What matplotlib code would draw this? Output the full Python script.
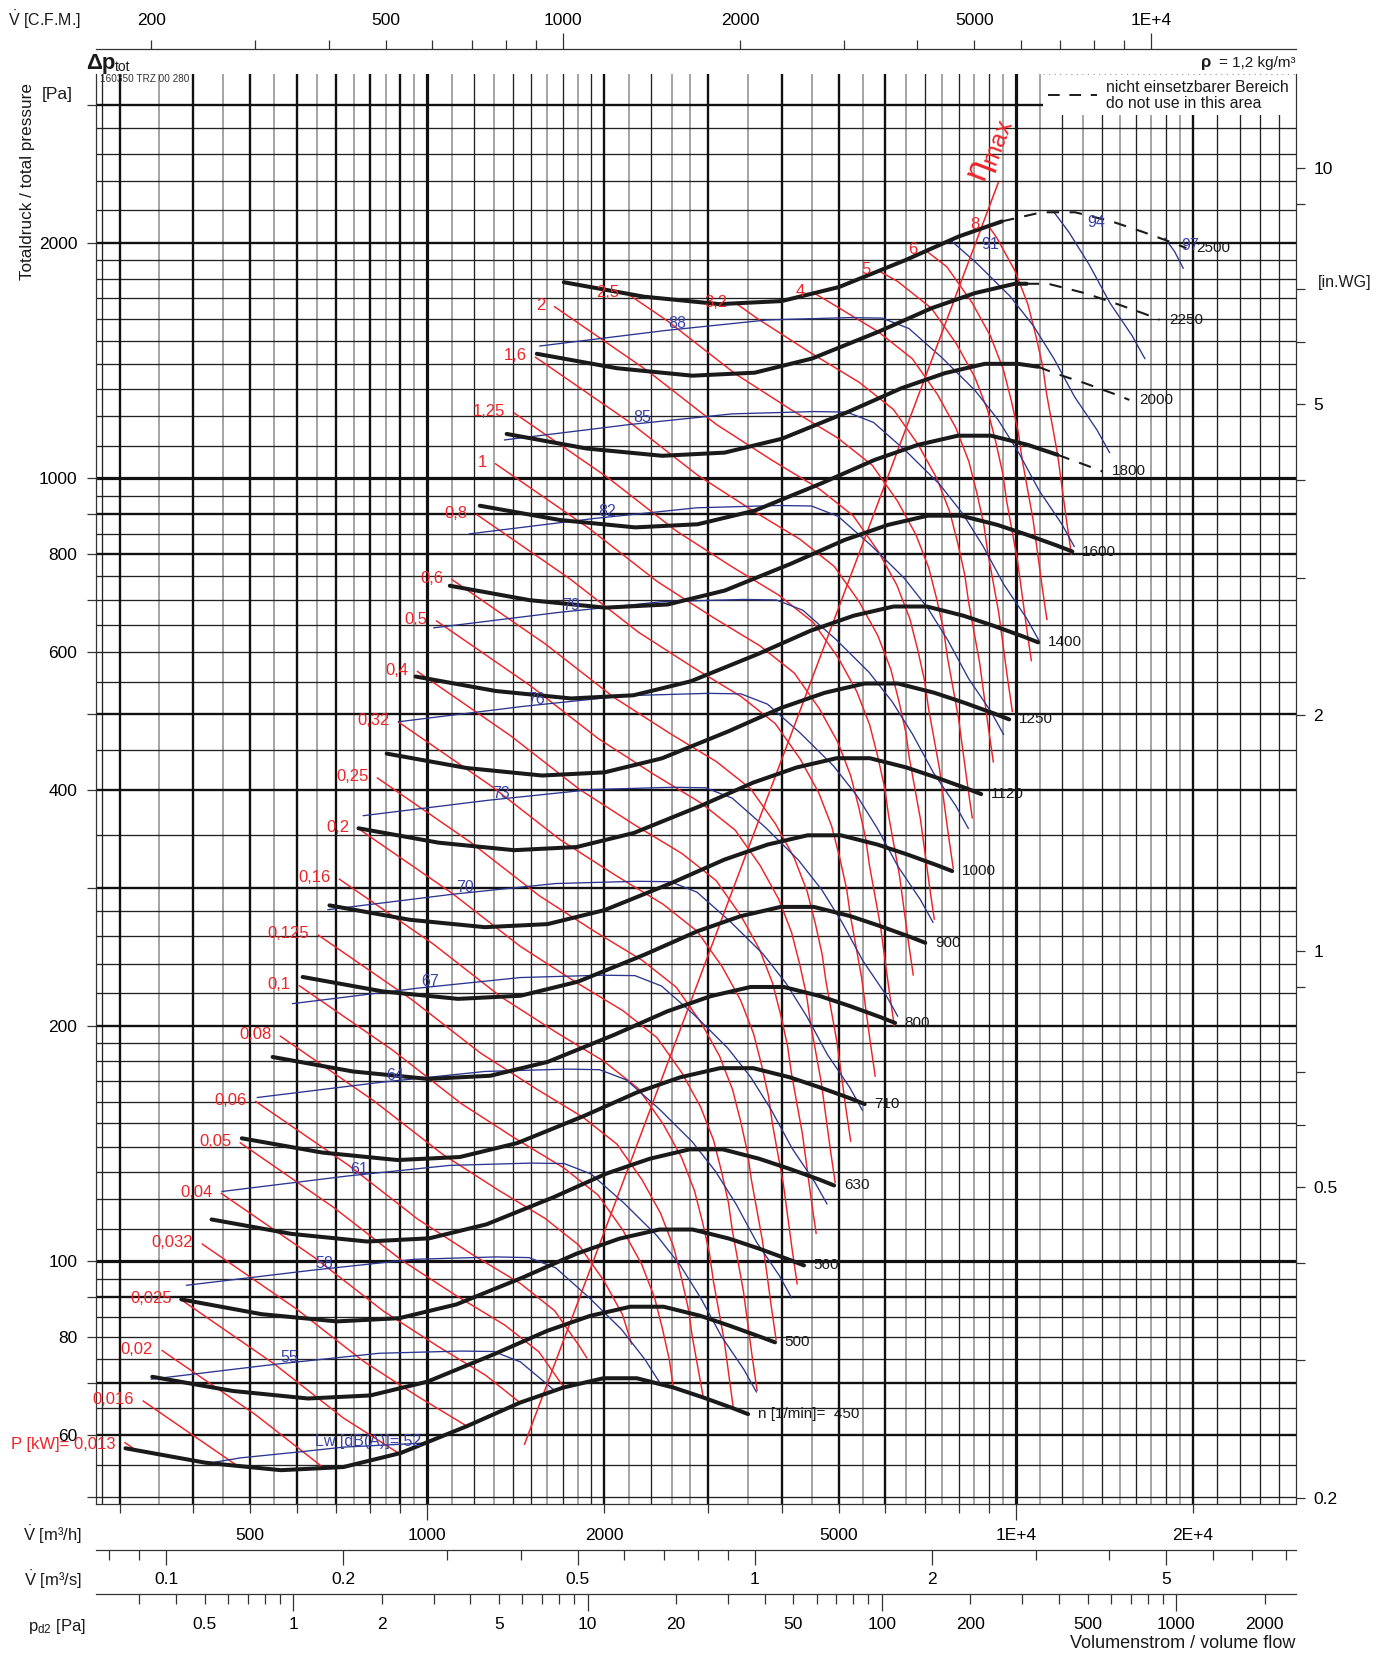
import numpy as np
import matplotlib
matplotlib.use("Agg")
import matplotlib.pyplot as plt
from matplotlib.ticker import FixedLocator, FuncFormatter
from matplotlib.lines import Line2D
from matplotlib.patches import Rectangle

plt.rcParams['font.family'] = ['Liberation Sans', 'DejaVu Sans']
plt.rcParams['mathtext.fontset'] = 'custom'
plt.rcParams['mathtext.rm'] = 'Liberation Sans'
plt.rcParams['mathtext.it'] = 'Liberation Sans:italic'
plt.rcParams['mathtext.bf'] = 'Liberation Sans:bold'

# ================================================================ data
# --- fan curves: total pressure [Pa] over volume flow [m3/h] per speed n
SPEEDS = [450, 500, 560, 630, 710, 800, 900, 1000, 1120, 1250, 1400, 1600,
          1800, 2000, 2250, 2500]
V_450 = [307, 420, 564, 720, 901, 1169, 1438, 1704, 1992, 2269, 2618, 2943, 3309, 3508]
P_450 = [57.7, 55.3, 54.1, 54.6, 56.9, 61.6, 66.0, 69.0, 70.9, 70.9, 69.0, 67.0, 64.9, 63.8]
V_500 = [341, 467, 627, 800, 1001, 1299, 1598, 1893, 2213, 2521, 2909, 3270, 3677, 3898]
P_500 = [71.2, 68.3, 66.8, 67.4, 70.2, 76.1, 81.5, 85.2, 87.5, 87.5, 85.2, 82.7, 80.1, 78.8]
V_560 = [382, 523, 702, 896, 1121, 1455, 1789, 2121, 2479, 2824, 3258, 3662, 4118, 4365]
P_560 = [89.4, 85.6, 83.8, 84.6, 88.1, 95.4, 102.2, 106.9, 109.8, 109.8, 106.9, 103.8, 100.5, 98.8]
V_630 = [430, 588, 790, 1008, 1261, 1637, 2013, 2386, 2789, 3177, 3665, 4120, 4633, 4911]
P_630 = [113.1, 108.4, 106.0, 107.0, 111.5, 120.7, 129.4, 135.2, 139.0, 139.0, 135.2, 131.3, 127.2, 125.0]
V_710 = [484, 663, 890, 1136, 1422, 1844, 2269, 2689, 3143, 3580, 4131, 4644, 5221, 5535]
P_710 = [143.6, 137.7, 134.7, 135.9, 141.6, 153.3, 164.3, 171.8, 176.5, 176.5, 171.8, 166.8, 161.6, 158.8]
V_800 = [546, 747, 1003, 1280, 1602, 2078, 2557, 3029, 3541, 4034, 4654, 5232, 5883, 6236]
P_800 = [182.4, 174.8, 171.0, 172.6, 179.8, 194.7, 208.6, 218.1, 224.1, 224.1, 218.1, 211.8, 205.1, 201.6]
V_900 = [614, 840, 1128, 1440, 1802, 2338, 2876, 3408, 3984, 4538, 5236, 5886, 6618, 7016]
P_900 = [230.8, 221.2, 216.4, 218.4, 227.6, 246.4, 264.0, 276.0, 283.6, 283.6, 276.0, 268.0, 259.6, 255.2]
V_1000 = [682, 933, 1253, 1600, 2002, 2598, 3196, 3787, 4427, 5042, 5818, 6540, 7353, 7796]
P_1000 = [284.9, 273.1, 267.2, 269.6, 281.0, 304.2, 325.9, 340.7, 350.1, 350.1, 340.7, 330.9, 320.5, 315.1]
V_1120 = [764, 1045, 1404, 1792, 2243, 2910, 3579, 4241, 4958, 5647, 6516, 7325, 8236, 8731]
P_1120 = [357.4, 342.6, 335.1, 338.2, 352.5, 381.6, 408.8, 427.4, 439.2, 439.2, 427.4, 415.0, 402.0, 395.2]
V_1250 = [853, 1167, 1567, 2000, 2503, 3247, 3994, 4733, 5533, 6303, 7272, 8175, 9192, 9744]
P_1250 = [445.2, 426.7, 417.4, 421.3, 439.0, 475.3, 509.3, 532.4, 547.1, 547.1, 532.4, 517.0, 500.8, 492.3]
V_1400 = [955, 1307, 1755, 2240, 2803, 3637, 4474, 5301, 6197, 7059, 8145, 9156, 10295, 10914]
P_1400 = [558.5, 535.2, 523.6, 528.5, 550.7, 596.2, 638.8, 667.9, 686.2, 686.2, 667.9, 648.5, 628.2, 617.5]
V_1600 = [1092, 1493, 2005, 2560, 3204, 4156, 5113, 6059, 7083, 8068, 9308, 10464, 11765, 12473]
P_1600 = [729.4, 699.1, 683.9, 690.3, 719.3, 778.7, 834.4, 872.3, 896.3, 896.3, 872.3, 847.0, 820.5, 806.6]
V_1800 = [1228, 1680, 2256, 2880, 3604, 4676, 5752, 6816, 7968, 9076, 10472, 11772, 13236, 14032]
P_1800 = [923, 885, 866, 874, 910, 986, 1056, 1104, 1134, 1134, 1104, 1072, 1038, 1021]
V_2000 = [1364, 1867, 2507, 3200, 4004, 5196, 6391, 7573, 8853, 10084, 10913, 11636, 13080, 14707, 15591]
P_2000 = [1140, 1092, 1069, 1079, 1124, 1217, 1304, 1363, 1401, 1401, 1389, 1363, 1324, 1282, 1260]
V_2250 = [1535, 2100, 2820, 3600, 4505, 5845, 7190, 8520, 9960, 10430, 11345, 13090, 14715, 16545, 17540]
P_2250 = [1443, 1383, 1353, 1365, 1423, 1540, 1650, 1725, 1773, 1773, 1773, 1725, 1675, 1623, 1595]
V_2500 = [1706, 2333, 3133, 4000, 5006, 6494, 7989, 9467, 11067, 12606, 14544, 16350, 18383, 19489]
P_2500 = [1781, 1707, 1670, 1685, 1756, 1901, 2037, 2130, 2188, 2188, 2130, 2068, 2003, 1969]

DASH_SPEEDS = [1800, 2000, 2250, 2500]
DASH_FROM_V = [11772, 10913, 10430, 9467]

# --- shaft power iso-lines P [kW]
RED_LABELS = ['P [kW]= 0,013', '0,016', '0,02', '0,025', '0,032', '0,04', '0,05',
              '0,06', '0,08', '0,1', '0,125', '0,16', '0,2', '0,25', '0,32',
              '0,4', '0,5', '0,6', '0,8', '1', '1,25', '1,6', '2', '2,5',
              '3,2', '4', '5', '6', '8']
R_0013_V = [306.5, 321]
R_0013_P = [58.65, 57.3]
R_0016_V = [329.1, 474]
R_0016_P = [66.3, 54.9]
R_002_V = [354.5, 510.5, 668]
R_002_P = [76.9, 63.7, 54.4]
R_0025_V = [381.9, 550.0, 719.6, 893]
R_0025_P = [89.3, 73.9, 63.1, 56.9]
R_0032_V = [414.7, 597.2, 781.4, 969.6, 1167]
R_0032_P = [105.2, 87.1, 74.4, 67.0, 61.6]
R_004_V = [446.7, 643.3, 841.7, 1044.5, 1257.2, 1437]
R_004_P = [122.1, 101.1, 86.4, 77.8, 71.5, 66.0]
R_005_V = [481.1, 693.0, 906.6, 1125.1, 1354.2, 1548.0, 1707]
R_005_P = [141.7, 117.2, 100.2, 90.2, 82.9, 76.6, 69.0]
R_006_V = [511.3, 736.4, 963.5, 1195.6, 1439.1, 1645.1, 1813.8, 1866]
R_006_P = [160.0, 132.5, 113.2, 101.9, 93.7, 86.5, 77.9, 75.3]
R_008_V = [562.8, 810.5, 1060.4, 1316.0, 1584.0, 1810.6, 1996.4, 2146.3, 2224]
R_008_P = [193.9, 160.4, 137.1, 123.5, 113.5, 104.8, 94.4, 85.5, 78.4]
R_01_V = [606.2, 873.2, 1142.4, 1417.7, 1706.4, 1950.6, 2150.6, 2312.2, 2432.4, 2510.4, 2579.1, 2618]
R_01_P = [224.9, 186.1, 159.0, 143.2, 131.6, 121.5, 109.5, 99.2, 89.9, 81.9, 74.7, 69.0]
R_0125_V = [653, 940.5, 1230.5, 1527, 1838, 2101, 2316.5, 2490.5, 2620, 2704, 2778, 2820, 2944]
R_0125_P = [261, 216, 184.6, 166.3, 152.8, 141.1, 127.1, 115.2, 104.4, 95.1, 86.8, 80.1, 67.0]
R_016_V = [709.0, 1021.2, 1336.1, 1658.0, 1995.7, 2281.3, 2515.3, 2704.2, 2844.8, 2936.0, 3016.4, 3062.0, 3196.6, 3311]
R_016_P = [307.7, 254.6, 217.5, 196.0, 180.1, 166.3, 149.8, 135.7, 123.0, 112.1, 102.3, 94.4, 79.0, 64.9]
R_02_V = [763.7, 1100.0, 1439.2, 1786.0, 2149.7, 2457.3, 2709.4, 2912.9, 3064.4, 3162.6, 3249.1, 3298.3, 3443.3, 3566.7, 3633.4]
R_02_P = [357.0, 295.5, 252.5, 227.4, 209.0, 193.0, 173.9, 157.5, 142.8, 130.1, 118.7, 109.5, 91.7, 75.3, 68.4]
R_025_V = [822.8, 1185.0, 1550.4, 1924.0, 2315.9, 2647.3, 2918.8, 3138.0, 3301.2, 3407.0, 3500.3, 3553.2, 3709.4, 3842.4, 3914.2]
R_025_P = [414.4, 342.9, 293.0, 263.9, 242.5, 224.0, 201.8, 182.8, 165.7, 150.9, 137.7, 127.1, 106.4, 87.4, 79.4]
R_032_V = [893.3, 1286.6, 1683.3, 2088.9, 2514.4, 2874.2, 3169.0, 3407.0, 3584.2, 3699.1, 3800.3, 3857.8, 4027.4, 4171.7, 4249.7]
R_032_P = [488.5, 404.3, 345.4, 311.2, 285.9, 264.0, 237.9, 215.5, 195.3, 177.9, 162.4, 149.9, 125.4, 103.0, 93.6]
R_04_V = [962.3, 1385.9, 1813.3, 2250.2, 2708.5, 3096.0, 3413.6, 3670.0, 3860.8, 3984.6, 4093.7, 4155.6, 4338.3, 4493.7, 4577.7]
R_04_P = [566.8, 469.1, 400.8, 361.0, 331.8, 306.4, 276.0, 250.1, 226.6, 206.5, 188.4, 173.9, 145.5, 119.5, 108.6]
R_05_V = [1036.6, 1493.0, 1953.3, 2424.0, 2917.6, 3335.1, 3677.2, 3953.4, 4159.0, 4292.3, 4409.8, 4476.5, 4673.3, 4840.8, 4931.3]
R_05_P = [657.7, 544.3, 465.1, 419.0, 385.0, 355.5, 320.3, 290.2, 263.0, 239.6, 218.6, 201.8, 168.8, 138.7, 126.1]
R_06_V = [1101.5, 1586.4, 2075.6, 2575.7, 3100.3, 3543.9, 3907.5, 4200.9, 4419.4, 4561.1, 4685.9, 4756.8, 4965.9, 5143.9, 5240.0]
R_06_P = [742.7, 614.7, 525.2, 473.1, 434.7, 401.4, 361.7, 327.7, 296.9, 270.5, 246.9, 227.9, 190.7, 156.6, 142.4]
R_08_V = [1212.4, 1746.1, 2284.5, 2835.0, 3412.4, 3900.7, 4300.8, 4623.9, 4864.3, 5020.2, 5157.6, 5235.6, 5465.8, 5661.7, 5767.5]
R_08_P = [899.7, 744.6, 636.2, 573.1, 526.6, 486.3, 438.1, 396.9, 359.7, 327.7, 299.0, 276.0, 231.0, 189.8, 172.4]
R_1_V = [1306, 1881, 2461, 3054, 3676, 4202, 4633, 4981, 5240, 5408, 5556, 5640, 5888, 6099, 6213]
R_1_P = [1044, 864, 738.2, 665, 611.1, 564.3, 508.4, 460.6, 417.4, 380.3, 347.0, 320.3, 268.0, 220.2, 200.1]
R_125_V = [1406.8, 2026.2, 2651.0, 3289.8, 3959.8, 4526.4, 4990.7, 5365.5, 5644.5, 5825.5, 5984.9, 6075.4, 6342.6, 6569.8, 6692.6]
R_125_P = [1211.5, 1002.6, 856.6, 771.7, 709.1, 654.8, 590.0, 534.5, 484.4, 441.3, 402.7, 371.7, 311.0, 255.5, 232.2]
R_16_V = [1527.5, 2200.0, 2878.4, 3572.0, 4299.4, 4914.7, 5418.8, 5825.8, 6128.7, 6325.2, 6498.3, 6596.5, 6886.6, 7133.4, 7266.7]
R_16_P = [1428.2, 1182.0, 1009.9, 909.7, 836.0, 772.0, 695.5, 630.1, 571.0, 520.3, 474.7, 438.2, 366.6, 301.2, 273.7]
R_2_V = [1645.4, 2369.9, 3100.6, 3847.7, 4631.4, 5294.1, 5837.1, 6275.6, 6601.9, 6813.6, 7000.0, 7105.8, 7418.3, 7684.1, 7827.8]
R_2_P = [1657.2, 1371.5, 1171.8, 1055.6, 970.1, 895.8, 807.0, 731.2, 662.6, 603.7, 550.8, 508.4, 425.4, 349.5, 317.6]
R_25_V = [2195, 2552.9, 3340.1, 4144.9, 4989.1, 5703.0, 6287.9, 6760.2, 7111.7, 7339.7, 7540.6, 7654.6, 7991.2, 8277.6, 8432.4]
R_25_P = [1719, 1591.5, 1359.8, 1224.9, 1125.6, 1039.4, 936.5, 848.4, 768.9, 700.5, 639.2, 590.0, 493.7, 405.6, 368.6]
R_32_V = [3350, 3626.5, 4500.4, 5416.9, 6192.1, 6827.2, 7340.0, 7721.7, 7969.2, 8187.3, 8311.1, 8676.6, 8987.5, 9155.5]
R_32_P = [1673, 1603.0, 1444.0, 1327.0, 1225.4, 1104.0, 1000.2, 906.4, 825.8, 753.5, 695.5, 582.0, 478.2, 434.5]
R_4_V = [4541, 4847.9, 5835.3, 6670.2, 7354.4, 7906.8, 8318.0, 8584.7, 8819.6, 8952.9, 9346.6, 9681.5, 9862.5]
R_4_P = [1725, 1675.7, 1539.9, 1421.9, 1281.1, 1160.6, 1051.8, 958.3, 874.4, 807.1, 675.3, 554.9, 504.2]
R_5_V = [5864, 6286, 7185.4, 7922.4, 8517.5, 8960.4, 9247.7, 9500.8, 9644.4, 10068.5, 10429.3, 10624.2]
R_5_P = [1839, 1786.9, 1650.0, 1486.6, 1346.8, 1220.5, 1112.0, 1014.6, 936.6, 783.6, 643.9, 585.1]
R_6_V = [7045, 7635.5, 8418.6, 9051.0, 9521.6, 9826.9, 10095.8, 10248.4, 10699.1, 11082.5, 11289.6]
R_6_P = [1953, 1863.3, 1678.7, 1520.9, 1378.2, 1255.7, 1145.8, 1057.6, 884.9, 727.1, 660.7]
R_8_V = [8982, 9266, 9962, 10480, 10816, 11112, 11280, 11776, 12198, 12426]
R_8_P = [2101.6, 2033.6, 1842.4, 1669.6, 1521.2, 1388.0, 1281.2, 1072.0, 880.8, 800.4]

# --- sound power iso-lines Lw [dB(A)]
LW_LEVELS = [52, 55, 58, 61, 64, 67, 70, 73, 76, 79, 82, 85, 88, 91, 94, 97]
B_52_V = [436, 482, 608, 721, 993]
B_52_P = [55.4, 56.1, 57.1, 57.9, 58.6]
B_55_V = [339.7, 553.9, 828.1, 1140.2, 1296.6, 1439.2, 1637]
B_55_P = [70.7, 73.9, 76.3, 76.8, 76.7, 74.4, 68.6]
B_58_V = [390.1, 636.1, 950.8, 1309.4, 1488.7, 1652.4, 1879.6, 2139.4, 2343.8, 2491]
B_58_P = [93.2, 97.4, 100.6, 101.3, 101.1, 98.1, 90.0, 81.8, 74.9, 69.7]
B_61_V = [447.9, 730.3, 1091.7, 1503.4, 1709.3, 1897.2, 2158.1, 2456.3, 2691.1, 2913.4, 3160.7, 3448.3, 3623.1]
B_61_P = [122.8, 128.5, 132.6, 133.5, 133.3, 129.3, 118.7, 107.8, 98.8, 89.8, 80.2, 72.8, 68.1]
B_64_V = [514.3, 838.5, 1253.5, 1726.2, 1962.6, 2178.4, 2478.0, 2820.3, 3090.0, 3345.2, 3629.1, 3959.3, 4160.0]
B_64_P = [161.9, 169.4, 174.8, 176.0, 175.7, 170.5, 156.5, 142.1, 130.2, 118.4, 105.7, 96.0, 89.8]
B_67_V = [590.5, 962.7, 1439.2, 1981.9, 2253.4, 2501.1, 2845.0, 3238.1, 3547.7, 3840.7, 4166.7, 4545.9, 4776.3]
B_67_P = [213.4, 223.3, 230.4, 232.0, 231.7, 224.7, 206.3, 187.3, 171.7, 156.1, 139.4, 126.5, 118.4]
B_70_V = [678.0, 1105.5, 1652.5, 2275.7, 2587.4, 2871.8, 3266.7, 3718.1, 4073.5, 4410.0, 4784.4, 5219.7, 5484.3]
B_70_P = [281.3, 294.4, 303.8, 305.8, 305.4, 296.2, 271.9, 247.0, 226.3, 205.7, 183.7, 166.8, 156.0]
B_73_V = [778.5, 1269.3, 1897.4, 2612.9, 2970.8, 3297.3, 3750.8, 4269.0, 4677.1, 5063.4, 5493.3, 5993.1, 6297.0]
B_73_P = [370.9, 388.1, 400.5, 403.2, 402.6, 390.5, 358.5, 325.6, 298.4, 271.2, 242.2, 219.9, 205.7]
B_76_V = [893.8, 1457.3, 2178.5, 3000.0, 3410.9, 3785.9, 4306.5, 4901.5, 5370.1, 5813.7, 6307.2, 6881.1, 7229.9]
B_76_P = [488.9, 511.6, 527.9, 531.5, 530.7, 514.8, 472.6, 429.2, 393.3, 357.5, 319.3, 289.8, 271.1]
B_79_V = [1026.2, 1673.3, 2501.3, 3444.6, 3916.4, 4346.9, 4944.7, 5627.9, 6165.8, 6675.2, 7241.8, 7900.7, 8301.3]
B_79_P = [644.5, 674.4, 695.9, 700.6, 699.6, 678.6, 623.0, 565.7, 518.5, 471.3, 420.9, 382.1, 357.4]
B_82_V = [1178.2, 1921.1, 2871.8, 3954.8, 4496.5, 4990.8, 5677.1, 6461.6, 7079.2, 7664.1, 8314.5, 9071.1, 9531.0]
B_82_P = [849.6, 889.0, 917.4, 923.6, 922.2, 894.5, 821.2, 745.8, 683.5, 621.3, 554.8, 503.7, 471.1]
B_85_V = [1352.8, 2205.8, 3297.4, 4540.9, 5162.7, 5730.3, 6518.3, 7418.8, 8128.2, 8799.7, 9546.5, 10415.2, 10943.2]
B_85_P = [1120.0, 1171.9, 1209.3, 1217.5, 1215.7, 1179.2, 1082.5, 983.2, 901.1, 819.0, 731.4, 663.9, 621.1]
B_88_V = [1553.3, 2532.7, 3786.0, 5213.8, 5927.8, 6579.5, 7484.3, 8518.5, 9332.7, 10103.7, 10961.3, 11958.7, 12565.0]
B_88_P = [1476.4, 1545.0, 1594.2, 1605.1, 1602.7, 1554.6, 1427.1, 1296.1, 1187.9, 1079.7, 964.2, 875.3, 818.8]
B_91_V = [7751, 8593.1, 9780.5, 10715.4, 11600.6, 12585.3, 13730.4, 14426.5]
B_91_P = [2015, 1881.3, 1708.5, 1565.9, 1423.2, 1271.1, 1153.8, 1079.3]
B_94_V = [11612, 12303.2, 13319.5, 14450.1, 15764.9, 16564.1]
B_94_P = [2188, 2064.2, 1876.2, 1675.6, 1521.0, 1422.8]
B_97_V = [17920, 18600, 19247]
B_97_P = [2027, 1950, 1856]

# --- line of maximum efficiency
ETA_V = [1463, 9335]
ETA_P = [58.4, 2387]

# --- axis tick values
PA_LABELED = [60, 80, 100, 200, 400, 600, 800, 1000, 2000]
PA_UNLABELED = [50, 70, 90, 300, 500, 700, 900, 3000]
INWG_LABELED = [0.2, 0.5, 1, 2, 5, 10]
INWG_UNLABELED = [0.3, 0.4, 0.6, 0.7, 0.9, 3, 4, 6, 7, 9]
M3H_LONG = [1000, 10000]
M3H_SHORT = [300, 400, 500, 600, 700, 800, 900, 2000, 3000, 4000, 5000,
             6000, 7000, 8000, 9000, 20000]
M3H_LABELS = {500: '500', 1000: '1000', 2000: '2000', 5000: '5000',
              10000: '1E+4', 20000: '2E+4'}
CFM_LONG = [1000, 10000]
CFM_SHORT = [200, 300, 400, 500, 600, 700, 800, 900, 2000, 3000, 4000, 5000,
             6000, 7000, 8000, 9000]
CFM_LABELS = {200: '200', 500: '500', 1000: '1000', 2000: '2000',
              5000: '5000', 10000: '1E+4'}
M3S_LONG = [0.1, 0.2, 0.5, 1, 2, 5]
M3S_SHORT = [0.08, 0.09, 0.3, 0.4, 0.6, 0.7, 0.8, 0.9, 3, 4, 6, 7, 8]
M3S_LABELS = {0.1: '0.1', 0.2: '0.2', 0.5: '0.5', 1: '1', 2: '2', 5: '5'}
PD_LONG = [1, 10, 100, 1000]
PD_SHORT = [0.3, 0.4, 0.5, 0.6, 0.7, 0.8, 0.9, 2, 3, 4, 5, 6, 7, 8, 9,
            20, 30, 40, 50, 60, 70, 80, 90, 200, 300, 400, 500, 600, 700,
            800, 900, 2000]
PD_LABELS = {0.5: '0.5', 1: '1', 2: '2', 5: '5', 10: '10', 20: '20',
             50: '50', 100: '100', 200: '200', 500: '500', 1000: '1000',
             2000: '2000'}

# --- grid values (m3/h and Pa)
VG_XTHICK = [1000, 10000]
VG_THICK = [300, 400, 500, 600, 700, 800, 900, 2000, 3000, 4000, 5000, 6000, 20000]
VG_DARK = [280, 1200, 1400, 1500, 1700, 1900, 2400, 7000, 8000, 9000,
           12000, 14000, 16000, 18000, 22000, 24000, 26000, 28000]
VG_GRAY = [350, 450, 550, 650, 750, 850, 950, 1100, 1300, 1600, 1800, 2200,
           2600, 2800, 3500, 4500, 5500, 6500, 7500, 8500, 9500, 11000,
           13000, 15000, 17000, 19000]
HG_XTHICK = [100, 1000]
HG_THICK = [60, 70, 90, 200, 300, 400, 500, 800, 900, 2000, 3000]
HG_DARK = [50, 55, 65, 75, 80, 85, 95, 110, 120, 130, 140, 150, 160, 170,
           180, 190, 220, 240, 260, 280, 350, 450, 550, 600, 650, 700, 750,
           850, 950, 1100, 1200, 1300, 1400, 1500, 1600, 1700, 1800, 1900,
           2200, 2400, 2600, 2800]

# ================================================================ layout
W, H = 1387, 1657
fig = plt.figure(figsize=(W / 100, H / 100), dpi=100)


def fx(x):
    return x / W


def fy(y):
    return 1 - y / H


AX_L, AX_R, AX_T, AX_B = 96, 1296, 74, 1503.5
XLIM = (273.6, 29920)
YLIM = (49.05, 3286)
CFM = 1.69901
PD_REF = 592.0
INWG = 249.089

BLACK = '#1a1a1a'
RED = '#ee2328'
BLUE = '#2b3590'
BLUE_TXT = '#3b43a8'
TICK_FS = 12.5


def label_fmt(d):
    def f(v, pos=None):
        for k, s in d.items():
            if abs(v - k) <= 1e-3 * abs(k):
                return s
        return ''
    return FuncFormatter(f)


ax = fig.add_axes([fx(AX_L), fy(AX_B), (AX_R - AX_L) / W, (AX_B - AX_T) / H])
ax.set_xscale('log')
ax.set_yscale('log')
ax.set_xlim(*XLIM)
ax.set_ylim(*YLIM)
ax.patch.set_visible(False)
ax.spines['top'].set_visible(False)
for s in ['left', 'bottom', 'right']:
    ax.spines[s].set_linewidth(0.9)
    ax.spines[s].set_color('#333333')

# grid
for v in VG_GRAY:
    ax.axvline(v, color='#8c8c8c', lw=1.1, zorder=1)
for v in VG_DARK:
    ax.axvline(v, color='#222222', lw=0.95, zorder=1.1)
for v in VG_THICK:
    ax.axvline(v, color='#111111', lw=1.7, zorder=1.2)
for v in VG_XTHICK:
    ax.axvline(v, color='#111111', lw=2.3, zorder=1.2)
for p in HG_DARK:
    ax.axhline(p, color='#222222', lw=0.95, zorder=1.1)
for p in HG_THICK:
    ax.axhline(p, color='#111111', lw=1.7, zorder=1.2)
for p in HG_XTHICK:
    ax.axhline(p, color='#111111', lw=2.3, zorder=1.2)

# legend box (white area, top right)
ax.add_patch(Rectangle((0.789, 0.9713), 0.22, 0.04, transform=ax.transAxes,
                       fc='white', ec='none', zorder=2, clip_on=False))
ax.plot([0.789, 1.0], [1.0, 1.0], transform=ax.transAxes, color='#999999',
        lw=0.8, ls=(0, (1, 4)), zorder=2.1, clip_on=False)

# main x ticks (m3/h)
ax.xaxis.set_major_locator(FixedLocator(M3H_LONG))
ax.xaxis.set_minor_locator(FixedLocator(M3H_SHORT))
ax.xaxis.set_major_formatter(label_fmt(M3H_LABELS))
ax.xaxis.set_minor_formatter(label_fmt(M3H_LABELS))
ax.tick_params(axis='x', which='minor', length=6.5, width=0.9, pad=11,
               labelsize=TICK_FS, direction='out', color='#333333')
ax.tick_params(axis='x', which='major', length=11.5, width=0.9, pad=6,
               labelsize=TICK_FS, direction='out', color='#333333')
# main y ticks (Pa)
ax.yaxis.set_major_locator(FixedLocator(PA_LABELED + PA_UNLABELED))
ax.yaxis.set_major_formatter(label_fmt({v: str(v) for v in PA_LABELED}))
ax.yaxis.set_minor_locator(FixedLocator([]))
ax.tick_params(axis='y', which='major', length=6.5, width=0.9, pad=7,
               labelsize=TICK_FS, direction='out', color='#333333')

# right axis in.WG
ax2 = ax.twinx()
ax2.set_yscale('log')
ax2.set_ylim(YLIM[0] / INWG, YLIM[1] / INWG)
for s in ax2.spines.values():
    s.set_visible(False)
ax2.yaxis.set_major_locator(FixedLocator(INWG_LABELED + INWG_UNLABELED))
ax2.yaxis.set_major_formatter(label_fmt({0.2: '0.2', 0.5: '0.5', 1: '1', 2: '2',
                                         5: '5', 10: '10'}))
ax2.yaxis.set_minor_locator(FixedLocator([]))
ax2.tick_params(axis='y', which='major', length=6.5, width=0.9, pad=6,
                labelsize=TICK_FS, direction='out', color='#333333')


def scale_axes(yline, lo, hi, long_t, short_t, labels, long_len, short_len,
               pad_short, top=False):
    a = fig.add_axes([fx(AX_L), fy(yline), (AX_R - AX_L) / W, 1e-5])
    a.set_xscale('log')
    a.set_xlim(lo, hi)
    a.yaxis.set_visible(False)
    a.patch.set_visible(False)
    for s in a.spines.values():
        s.set_visible(False)
    side = 'top' if top else 'bottom'
    a.spines[side].set_visible(True)
    a.spines[side].set_linewidth(0.9)
    a.spines[side].set_color('#333333')
    if top:
        a.xaxis.tick_top()
    a.xaxis.set_major_locator(FixedLocator(long_t))
    a.xaxis.set_minor_locator(FixedLocator(short_t))
    a.xaxis.set_major_formatter(label_fmt(labels))
    a.xaxis.set_minor_formatter(label_fmt(labels))
    a.tick_params(which='minor', length=short_len, width=0.9, pad=pad_short,
                  labelsize=TICK_FS, direction='out', color='#333333')
    a.tick_params(which='major', length=long_len, width=0.9,
                  pad=pad_short + short_len - long_len,
                  labelsize=TICK_FS, direction='out', color='#333333')
    return a


scale_axes(49, XLIM[0] / CFM, XLIM[1] / CFM, CFM_LONG, CFM_SHORT, CFM_LABELS,
           11.5, 6.5, 8.5, top=True)
scale_axes(1549.7, XLIM[0] / 3600, XLIM[1] / 3600, M3S_LONG, M3S_SHORT,
           M3S_LABELS, 10.8, 7.2, 9)
scale_axes(1594.3, (XLIM[0] / PD_REF) ** 2, (XLIM[1] / PD_REF) ** 2, PD_LONG,
           PD_SHORT, PD_LABELS, 12.2, 7.2, 9.5)

# ================================================================ curves
# power lines
RED_LINES = [(R_0013_V, R_0013_P), (R_0016_V, R_0016_P), (R_002_V, R_002_P),
             (R_0025_V, R_0025_P), (R_0032_V, R_0032_P), (R_004_V, R_004_P),
             (R_005_V, R_005_P), (R_006_V, R_006_P), (R_008_V, R_008_P),
             (R_01_V, R_01_P), (R_0125_V, R_0125_P), (R_016_V, R_016_P),
             (R_02_V, R_02_P), (R_025_V, R_025_P), (R_032_V, R_032_P),
             (R_04_V, R_04_P), (R_05_V, R_05_P), (R_06_V, R_06_P),
             (R_08_V, R_08_P), (R_1_V, R_1_P), (R_125_V, R_125_P),
             (R_16_V, R_16_P), (R_2_V, R_2_P), (R_25_V, R_25_P),
             (R_32_V, R_32_P), (R_4_V, R_4_P), (R_5_V, R_5_P), (R_6_V, R_6_P),
             (R_8_V, R_8_P)]
for lab, (vv, pp) in zip(RED_LABELS, RED_LINES):
    ax.plot(vv, pp, color=RED, lw=1.05, zorder=4, solid_joinstyle='round')
    dy = -1.5 if lab.startswith('P') else 1
    ax.annotate(lab, (vv[0], pp[0]), xytext=(-6.5, dy), textcoords='offset points',
                ha='right', va='center', fontsize=12, color=RED, zorder=8)

# sound power lines
BLUE_LINES = [(B_52_V, B_52_P), (B_55_V, B_55_P), (B_58_V, B_58_P),
              (B_61_V, B_61_P), (B_64_V, B_64_P), (B_67_V, B_67_P),
              (B_70_V, B_70_P), (B_73_V, B_73_P), (B_76_V, B_76_P),
              (B_79_V, B_79_P), (B_82_V, B_82_P), (B_85_V, B_85_P),
              (B_88_V, B_88_P), (B_91_V, B_91_P), (B_94_V, B_94_P),
              (B_97_V, B_97_P)]
for lw_db, (vv, pp) in zip(LW_LEVELS, BLUE_LINES):
    ax.plot(vv, pp, color=BLUE, lw=0.95, zorder=4.5, solid_joinstyle='round')
    if lw_db == 52:
        ax.annotate('Lw [dB(A)]= 52', (vv[-1], pp[-1]), xytext=(-3, 1),
                    textcoords='offset points', ha='right', va='center',
                    fontsize=11.5, color=BLUE_TXT, zorder=8)
    elif lw_db == 91:
        ax.annotate('91', (vv[0], pp[0]), xytext=(28, -3),
                    textcoords='offset points', ha='center', va='center',
                    fontsize=11.5, color=BLUE_TXT, zorder=8)
    elif lw_db == 94:
        ax.annotate('94', (vv[0], pp[0]), xytext=(30, -7.5),
                    textcoords='offset points', ha='center', va='center',
                    fontsize=11.5, color=BLUE_TXT, zorder=8)
    elif lw_db == 97:
        ax.annotate('97', (vv[0], pp[0]), xytext=(18, -5.5),
                    textcoords='offset points', ha='center', va='center',
                    fontsize=11.5, color=BLUE_TXT, zorder=8)
    else:
        ax.annotate(str(lw_db), (vv[1], pp[1]), xytext=(9, 5),
                    textcoords='offset points', ha='center', va='center',
                    fontsize=11.5, color=BLUE_TXT, zorder=8)

# fan curves
CURVES = [(450, V_450, P_450), (500, V_500, P_500), (560, V_560, P_560),
          (630, V_630, P_630), (710, V_710, P_710), (800, V_800, P_800),
          (900, V_900, P_900), (1000, V_1000, P_1000), (1120, V_1120, P_1120),
          (1250, V_1250, P_1250), (1400, V_1400, P_1400), (1600, V_1600, P_1600),
          (1800, V_1800, P_1800), (2000, V_2000, P_2000), (2250, V_2250, P_2250),
          (2500, V_2500, P_2500)]

for n, vv, pp in CURVES:
    vv = np.asarray(vv, float)
    pp = np.asarray(pp, float)
    kw = dict(color=BLACK, lw=2.9, solid_capstyle='round',
              solid_joinstyle='round', zorder=6)
    if n in DASH_SPEEDS:
        vd = DASH_FROM_V[DASH_SPEEDS.index(n)]
        i = int(np.argmin(np.abs(np.log(vv) - np.log(vd))))
        ax.plot(vv[:i + 1], pp[:i + 1], **kw)
        ax.plot(vv[i:], pp[i:], color=BLACK, lw=1.5, ls=(0, (6, 5)), zorder=6)
    else:
        ax.plot(vv, pp, **kw)
    txt = 'n [1/min]=  %d' % n if n == 450 else '%d' % n
    ax.annotate(txt, (vv[-1], pp[-1]), xytext=(7, 0), textcoords='offset points',
                ha='left', va='center', fontsize=11, color=BLACK, zorder=8)

# eta max line
ax.plot(ETA_V, ETA_P, color=RED, lw=1.1, zorder=5)
fig.text(fx(990), fy(150), r'$\mathrm{\eta}_{\mathrm{max}}$', color=RED,
         fontsize=25, rotation=69, ha='center', va='center')

# ================================================================ texts
fig.text(fx(8), fy(20), r'$\dot{\mathrm{V}}$ [C.F.M.]', fontsize=11.5,
         ha='left', va='center', color=BLACK)
fig.text(fx(86), fy(63), 'Δp', fontsize=16, ha='left', va='center',
         color=BLACK, weight='bold')
fig.text(fx(115), fy(67), 'tot', fontsize=10, ha='left', va='center',
         color=BLACK)
fig.text(fx(100), fy(79), '160350 TRZ 00 280', fontsize=7.2, ha='left',
         va='center', color='#333333')
fig.text(fx(42), fy(95), '[Pa]', fontsize=12.5, ha='left', va='center',
         color=BLACK)
fig.text(fx(28), fy(182), 'Totaldruck / total pressure', fontsize=12.3,
         rotation=90, ha='center', va='center', color=BLACK)
fig.text(fx(1295.5), fy(63), '= 1,2 kg/m³', fontsize=11, ha='right',
         va='center', color=BLACK)
fig.text(fx(1211), fy(63), 'ρ', fontsize=12, ha='right', va='center',
         color=BLACK, weight='bold')
fig.add_artist(Line2D([fx(1048), fx(1097)], [fy(95), fy(95)], color=BLACK,
                      lw=1.4, ls=(0, (6, 5))))
fig.text(fx(1106), fy(87), 'nicht einsetzbarer Bereich', fontsize=11.3,
         ha='left', va='center', color=BLACK)
fig.text(fx(1106), fy(103.5), 'do not use in this area', fontsize=11.3,
         ha='left', va='center', color=BLACK)
fig.text(fx(1318), fy(283), '[in.WG]', fontsize=11.5, ha='left', va='center',
         color=BLACK)
fig.text(fx(23), fy(1535), r'$\dot{\mathrm{V}}$ [m³/h]', fontsize=12,
         ha='left', va='center', color=BLACK)
fig.text(fx(24), fy(1580), r'$\dot{\mathrm{V}}$ [m³/s]', fontsize=12,
         ha='left', va='center', color=BLACK)
fig.text(fx(28), fy(1626), r'p$_{\mathrm{d2}}$ [Pa]', fontsize=12,
         ha='left', va='center', color=BLACK)
fig.text(fx(1295.5), fy(1644), 'Volumenstrom / volume flow', fontsize=13,
         ha='right', va='center', color=BLACK)

fig.savefig('out.png', dpi=100)
